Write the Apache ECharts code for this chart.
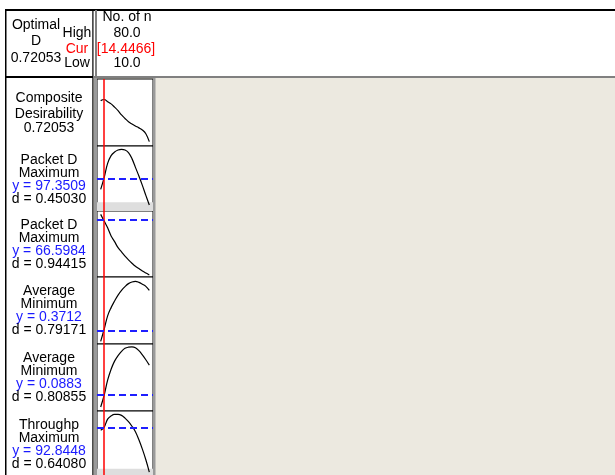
<!DOCTYPE html>
<html>
<head>
<meta charset="utf-8">
<script src="https://cdn.jsdelivr.net/npm/echarts@6/dist/echarts.min.js"></script>
<style>
  html, body { margin: 0; padding: 0; background: #fff; }
  #main { width: 615px; height: 475px; }
</style>
</head>
<body>
<div id="main"></div>
<script>
// 因子 No. of n 的取值点
var nValues = [10, 15, 20, 25, 30, 35, 40, 45, 50, 55, 60, 65, 70, 75, 80];
var nHigh = 80.0, nLow = 10.0, nCur = 14.4466;
var compositeD = 0.72053;

// 各面板的曲线
var compositeCurve = [0.700, 0.718, 0.684, 0.650, 0.600, 0.545, 0.479, 0.425, 0.375, 0.340, 0.309, 0.280, 0.247, 0.190, 0.067];
var packetD1 = [96.53, 97.47, 98.61, 99.23, 99.52, 99.68, 99.73, 99.68, 99.47, 98.99, 98.29, 97.60, 96.85, 96.05, 95.28];
var packetD2 = [68.11, 66.34, 64.56, 62.43, 60.92, 59.33, 58.21, 57.10, 56.13, 55.24, 54.44, 53.82, 53.20, 52.67, 52.14];
var average1 = [0.3142, 0.3783, 0.4495, 0.4933, 0.5282, 0.5599, 0.5848, 0.6049, 0.6208, 0.6293, 0.6329, 0.6275, 0.6177, 0.6062, 0.5848];
var average2 = [0.0751, 0.0900, 0.1091, 0.1230, 0.1333, 0.1403, 0.1457, 0.1495, 0.1510, 0.1514, 0.1503, 0.1465, 0.1412, 0.1350, 0.1282];
var throughp = [92.52, 92.93, 93.96, 94.38, 94.57, 94.57, 94.44, 94.09, 93.63, 93.05, 92.35, 91.31, 90.11, 88.75, 87.17];

// 响应名称、目标、当前值、d 值
var respNames = ['Packet D', 'Packet D', 'Average', 'Average', 'Throughp'];
var respGoals = ['Maximum', 'Maximum', 'Minimum', 'Minimum', 'Maximum'];
var respY = ['97.3509', '66.5984', '0.3712', '0.0883', '92.8448'];
var respD = ['0.45030', '0.94415', '0.79171', '0.80855', '0.64080'];
var lowerBounds = [95.5, null, null, null, 87.6]; // 灰色带（低于下限）

var curves = [compositeCurve, packetD1, packetD2, average1, average2, throughp];
var yRanges = [[0, 1.034], [94.8, 100], [51.6, 69], [0.30, 0.656], [0.07, 0.155], [86.8, 95]];

var panelTops = [79, 146, 211, 277, 344, 411];
var panelHeights = [67, 65, 66, 67, 67, 66];

var myChart = echarts.init(document.getElementById('main'));
var font = '"Liberation Sans", Arial, sans-serif';

function txt(x, y, s, color) {
	return {
		type: 'text', x: x, y: y, z: 120,
		style: { text: s, fill: color || '#000', font: '14px ' + font, align: 'center', verticalAlign: 'middle' }
	};
}
function box(x, y, w, h, color, z) {
	return { type: 'rect', z: z || 110, shape: { x: x, y: y, width: w, height: h }, style: { fill: color } };
}

var grids = [], xAxes = [], yAxes = [], series = [];
curves.forEach(function(c, i) {
	grids.push({
		left: 97, width: 56, top: panelTops[i], height: panelHeights[i],
		show: true, backgroundColor: '#fff', borderColor: '#000', borderWidth: 1
	});
	xAxes.push({ type: 'value', gridIndex: i, min: 4.7, max: 85.3, show: false });
	yAxes.push({ type: 'value', gridIndex: i, min: yRanges[i][0], max: yRanges[i][1], show: false });
	var mlData = [{ xAxis: nCur, lineStyle: { color: '#ff0000', width: 1.5, type: 'solid' } }];
	if (i > 0) {
		mlData.push({ yAxis: parseFloat(respY[i - 1]), lineStyle: { color: '#1f1fff', width: 2, type: [7, 4] } });
	}
	var s = {
		type: 'line', xAxisIndex: i, yAxisIndex: i,
		data: nValues.map(function(n, k) { return [n, c[k]]; }),
		smooth: 0.4, showSymbol: false, silent: true,
		lineStyle: { color: '#000', width: 1.2 },
		markLine: { silent: true, symbol: 'none', label: { show: false }, data: mlData, animation: false }
	};
	if (i > 0 && lowerBounds[i - 1] != null) {
		s.markArea = {
			silent: true, itemStyle: { color: '#dedede' },
			data: [[{ yAxis: yRanges[i][0] }, { yAxis: lowerBounds[i - 1] }]]
		};
	}
	series.push(s);
});

// 画布装饰与文字
var g = [
	box(0, 0, 615, 76, '#fff', 1),
	box(0, 76, 93, 400, '#fff', 1),
	box(5, 9, 610, 2, '#000'),
	box(5, 9, 1.5, 466, '#000'),
	box(92.3, 10, 1.2, 67, '#000'),
	box(95, 10, 2, 67, '#808080'),
	box(6, 76, 87, 2, '#000'),
	box(93, 76, 522, 2, '#808080'),
	box(92.3, 78, 1.2, 397, '#000'),
	box(94, 78, 3, 397, '#9a9a9a'),
	box(153, 78, 2.5, 397, '#9a9a9a'),
	// 表头
	txt(36, 25, 'Optimal'),
	txt(36, 41, 'D'),
	txt(36, 58, compositeD.toFixed(5)),
	txt(77, 33, 'High'),
	txt(77, 49, 'Cur', '#ff0000'),
	txt(77, 63, 'Low'),
	txt(127, 17, 'No. of n'),
	txt(127, 33, nHigh.toFixed(1)),
	txt(126, 49, '[' + nCur + ']', '#ff0000'),
	txt(127, 63, nLow.toFixed(1)),
	// 综合合意性
	txt(49, panelTops[0] + 19, 'Composite'),
	txt(49, panelTops[0] + 35, 'Desirability'),
	txt(49, panelTops[0] + 49, compositeD.toFixed(5))
];
respNames.forEach(function(name, k) {
	var t = panelTops[k + 1];
	g.push(txt(49, t + 14, name));
	g.push(txt(49, t + 26.7, respGoals[k]));
	g.push(txt(49, t + 39.7, 'y = ' + respY[k], '#1a1aff'));
	g.push(txt(49, t + 52.7, 'd = ' + respD[k]));
});

var option = {
	animation: false,
	backgroundColor: '#ECE9E0',
	grid: grids,
	xAxis: xAxes,
	yAxis: yAxes,
	series: series,
	graphic: { elements: g }
};
myChart.setOption(option);
</script>
</body>
</html>
